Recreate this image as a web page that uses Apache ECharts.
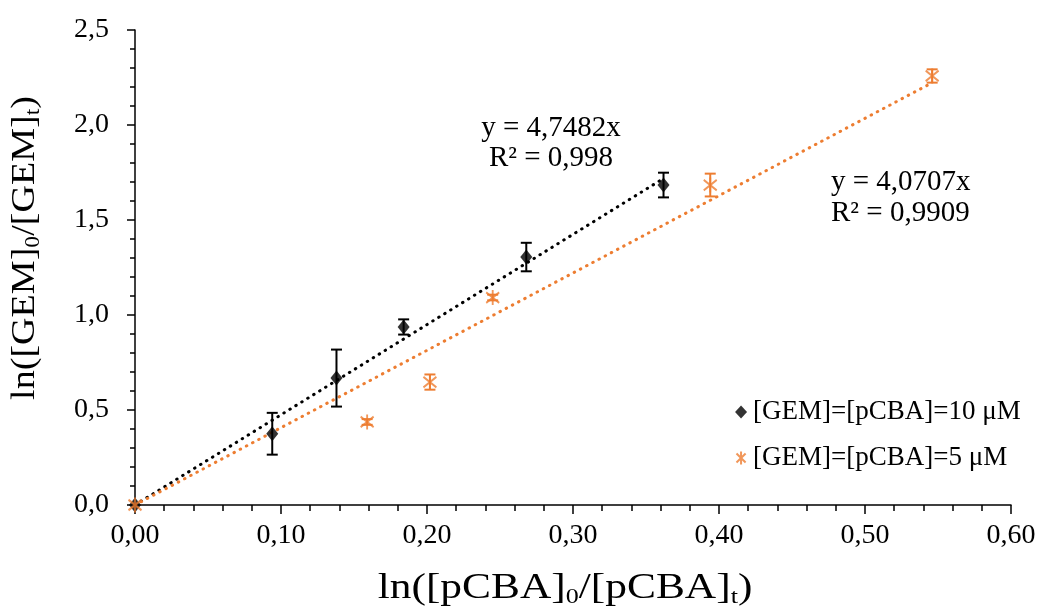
<!DOCTYPE html>
<html>
<head>
<meta charset="utf-8">
<script src="https://cdn.jsdelivr.net/npm/echarts@6/dist/echarts.min.js"></script>
<style>
  html, body { margin: 0; padding: 0; background: #fff; }
  #chart { width: 1043px; height: 611px; }
</style>
</head>
<body>
<div id="chart"></div>
<script>
// series 1: [GEM]=[pCBA]=10 µM
var x10 = [0, 0.094, 0.138, 0.184, 0.268, 0.362];
var y10 = [0, 0.375, 0.668, 0.937, 1.305, 1.684];
var err10 = [0, 0.11, 0.15, 0.04, 0.075, 0.065];
// series 2: [GEM]=[pCBA]=5 µM
var x5 = [0, 0.159, 0.202, 0.245, 0.394, 0.546];
var y5 = [0, 0.437, 0.647, 1.092, 1.684, 2.258];
var err5 = [0, 0.015, 0.04, 0.015, 0.06, 0.035];
// trend line slopes (forced through origin)
var slope10 = 4.7482, slope5 = 4.0707;
var label10 = ['y = 4,7482x', 'R² = 0,998'];
var label5 = ['y = 4,0707x', 'R² = 0,9909'];
var names = ['[GEM]=[pCBA]=10 μM', '[GEM]=[pCBA]=5 μM'];
var xTitle = 'ln([pCBA]{s|0}/[pCBA]{s|t})';
var yTitle = 'ln([GEM]{s|0}/[GEM]{s|t})';

var black = '#000000', orange = '#ED7D31';
var font = 'Liberation Serif';
var star = 'path://M0,-10L0,10M-7,-7L7,7M-7,7L7,-7';

function pts(xs, ys) { return xs.map(function (x, i) { return [x, ys[i]]; }); }
function errs(xs, ys, es) { return xs.map(function (x, i) { return [x, ys[i] - es[i], ys[i] + es[i]]; }); }
function trend(xs, k) { var m = Math.max.apply(null, xs); return [[0, 0], [m, k * m]]; }

function errorBar(color) {
  return function (params, api) {
    var lo = api.coord([api.value(0), api.value(1)]);
    var hi = api.coord([api.value(0), api.value(2)]);
    if (Math.abs(lo[1] - hi[1]) < 1) return;
    var w = 5.5;
    var st = { stroke: color, lineWidth: 2 };
    return {
      type: 'group',
      children: [
        { type: 'line', shape: { x1: lo[0], y1: lo[1], x2: hi[0], y2: hi[1] }, style: st },
        { type: 'line', shape: { x1: lo[0] - w, y1: lo[1], x2: lo[0] + w, y2: lo[1] }, style: st },
        { type: 'line', shape: { x1: hi[0] - w, y1: hi[1], x2: hi[0] + w, y2: hi[1] }, style: st }
      ]
    };
  };
}

var subRich = { s: { fontFamily: font, fontSize: 21, fill: '#000', padding: [16, 0, 0, 0] } };

var chart = echarts.init(document.getElementById('chart'));
chart.setOption({
  animation: false,
  textStyle: { fontFamily: font, color: '#000' },
  grid: { left: 135, right: 32, top: 30, bottom: 106 },
  legend: {
    orient: 'vertical', left: 729, top: 392, itemGap: 16,
    itemWidth: 12, itemHeight: 13,
    textStyle: { fontFamily: font, fontSize: 27, lineHeight: 30, color: '#000', padding: [0, 0, 0, 1] },
    data: names
  },
  xAxis: {
    type: 'value', min: 0, max: 0.6, interval: 0.1,
    axisLine: { lineStyle: { color: '#000', width: 1.5 } },
    axisTick: { inside: false, length: 9, lineStyle: { color: '#000', width: 1.5 } },
    minorTick: { show: true, splitNumber: 5, length: 6, lineStyle: { color: '#000', width: 1.5 } },
    splitLine: { show: false },
    axisLabel: { fontFamily: font, fontSize: 28, color: '#000', margin: 17,
      formatter: function (v) { return v.toFixed(2).replace('.', ','); } }
  },
  yAxis: {
    type: 'value', min: 0, max: 2.5, interval: 0.5,
    axisLine: { show: true, lineStyle: { color: '#000', width: 1.5 } },
    axisTick: { show: true, length: 8, lineStyle: { color: '#000', width: 1.5 } },
    minorTick: { show: true, splitNumber: 5, length: 5, lineStyle: { color: '#000', width: 1.5 } },
    splitLine: { show: false },
    axisLabel: { fontFamily: font, fontSize: 28, color: '#000', margin: 26,
      formatter: function (v) { return v.toFixed(1).replace('.', ','); } }
  },
  series: [
    {
      type: 'line', data: trend(x10, slope10), symbol: 'none', silent: true,
      lineStyle: { color: black, width: 3, type: [0.5, 6.5], cap: 'round' }, z: 1
    },
    {
      type: 'line', data: trend(x5, slope5), symbol: 'none', silent: true,
      lineStyle: { color: orange, width: 3, type: [0.5, 6.5], cap: 'round' }, z: 1
    },
    {
      type: 'custom', renderItem: errorBar(black), data: errs(x10, y10, err10), z: 2,
      encode: { x: 0, y: [1, 2] }
    },
    {
      type: 'custom', renderItem: errorBar(orange), data: errs(x5, y5, err5), z: 2,
      encode: { x: 0, y: [1, 2] }
    },
    {
      name: names[0], type: 'scatter', data: pts(x10, y10),
      symbol: 'diamond', symbolSize: [12, 15],
      itemStyle: { color: black }, z: 3
    },
    {
      name: names[1], type: 'scatter', data: pts(x5, y5),
      symbol: star, symbolSize: [13, 15],
      itemStyle: { color: 'none', borderColor: orange, borderWidth: 2 }, z: 3
    }
  ],
  graphic: [
    { type: 'text', x: 551, y: 128,
      style: { text: label10[0], font: '29px "Liberation Serif"', fill: '#000', align: 'center', verticalAlign: 'middle' } },
    { type: 'text', x: 551, y: 158,
      style: { text: label10[1], font: '29px "Liberation Serif"', fill: '#000', align: 'center', verticalAlign: 'middle' } },
    { type: 'text', x: 831, y: 182,
      style: { text: label5[0], font: '29px "Liberation Serif"', fill: '#000', align: 'left', verticalAlign: 'middle' } },
    { type: 'text', x: 831, y: 213,
      style: { text: label5[1], font: '29px "Liberation Serif"', fill: '#000', align: 'left', verticalAlign: 'middle' } },
    { type: 'text', x: 565, y: 589, scaleX: 1.24,
      style: { text: xTitle, fontFamily: font, fontSize: 35, fill: '#000', align: 'center', verticalAlign: 'middle', rich: subRich } },
    { type: 'text', x: 25, y: 248, scaleX: 1.12, rotation: Math.PI / 2,
      style: { text: yTitle, fontFamily: font, fontSize: 34, fill: '#000', align: 'center', verticalAlign: 'middle', rich: subRich } }
  ]
});
</script>
</body>
</html>
